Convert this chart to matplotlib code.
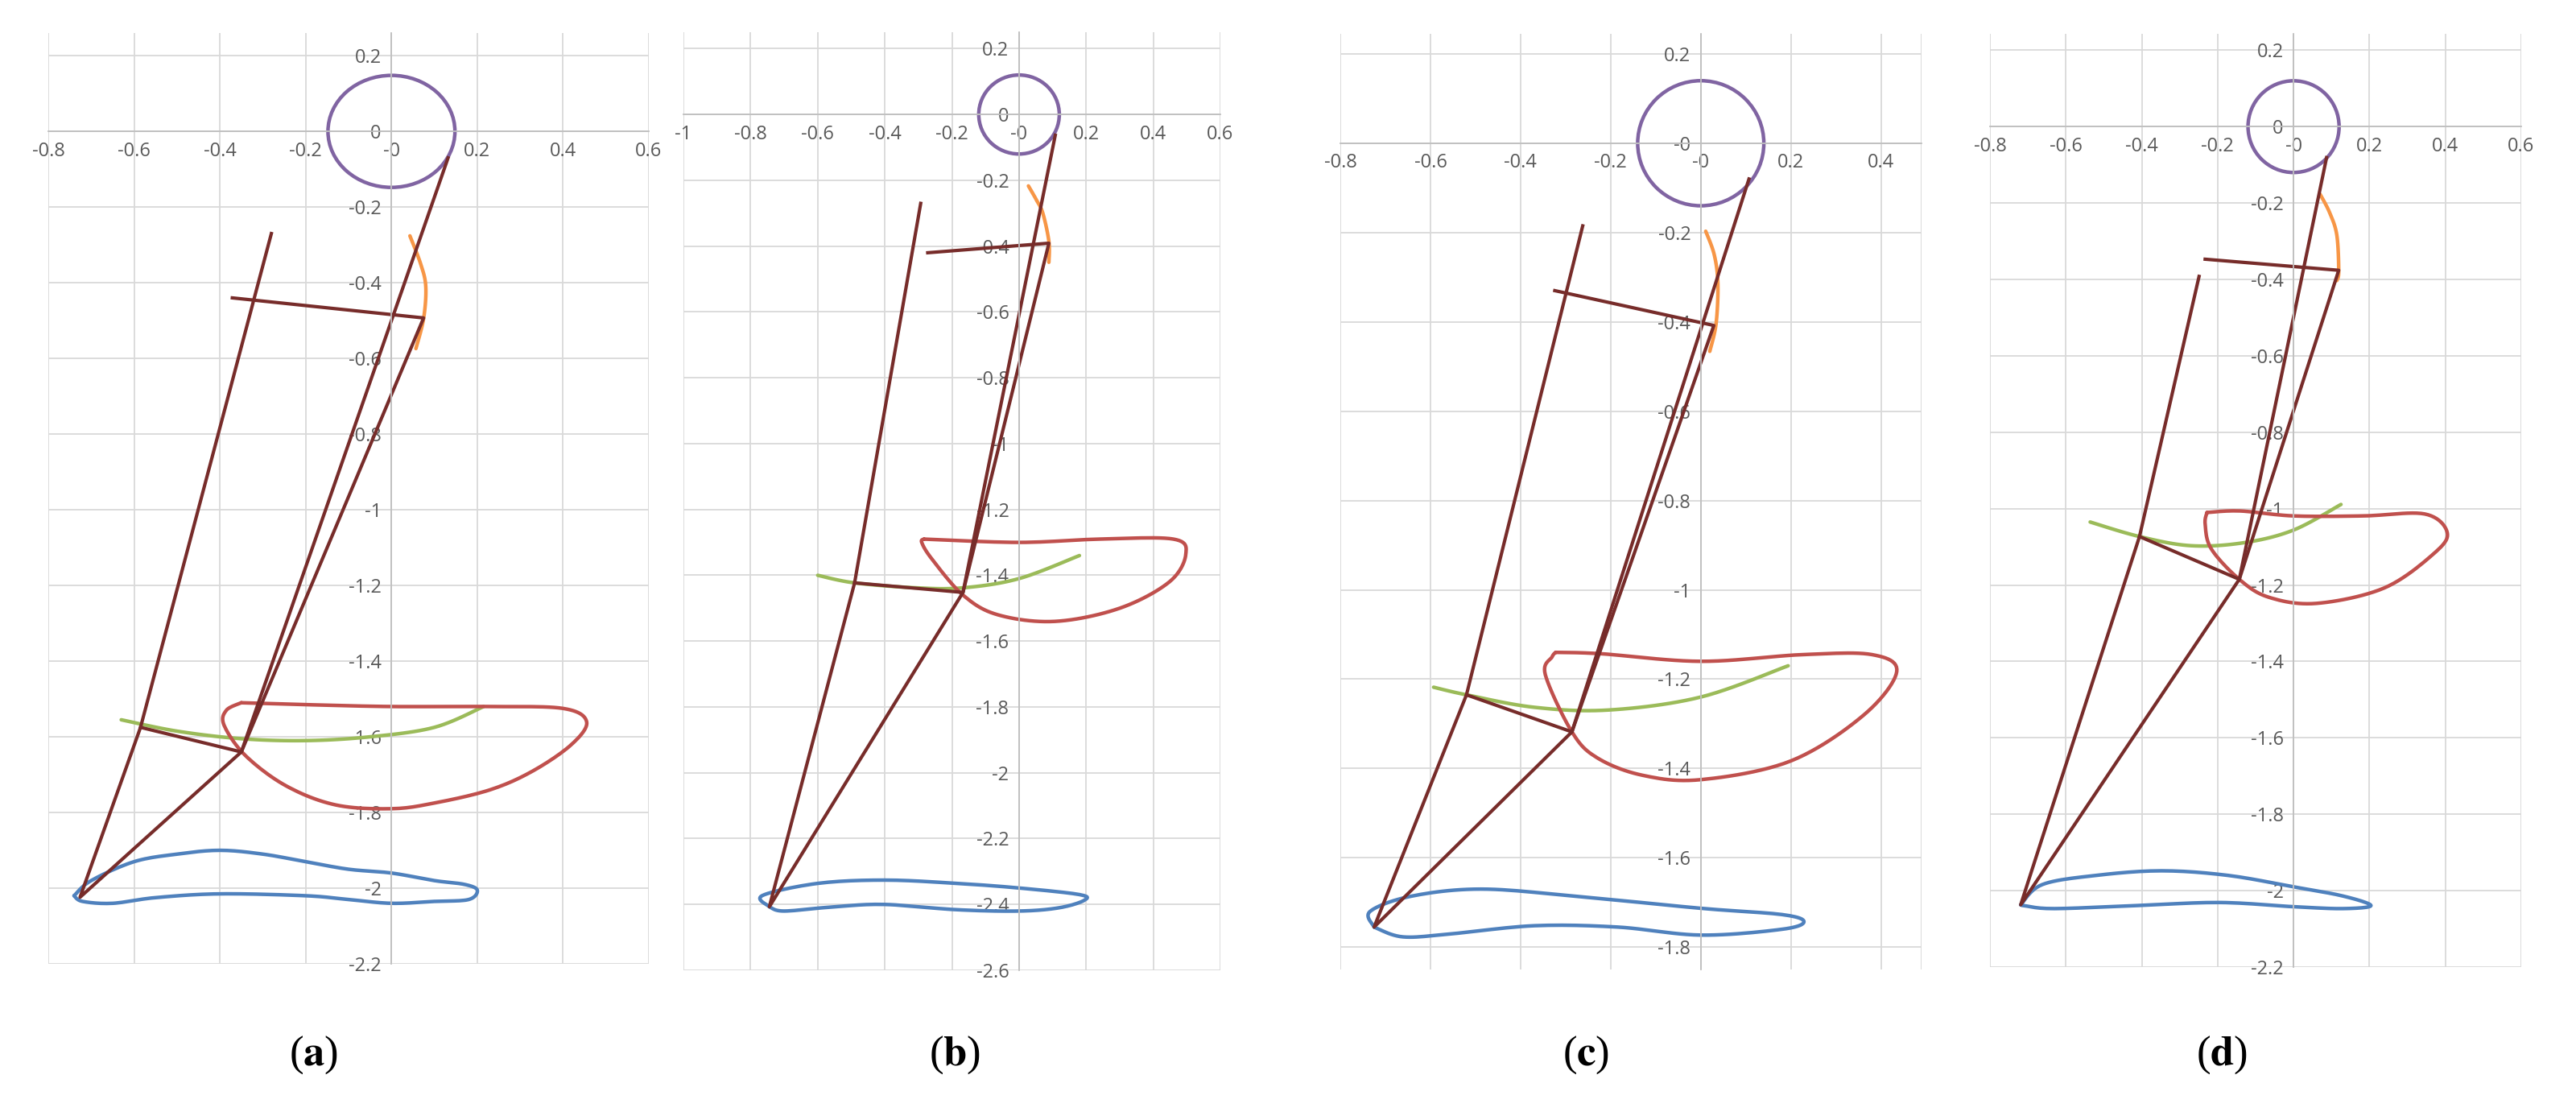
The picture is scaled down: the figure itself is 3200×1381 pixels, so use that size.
import matplotlib
matplotlib.use("Agg")
import matplotlib.pyplot as plt
from matplotlib.patches import Ellipse
import numpy as np

# ---- panel (a) ----
a_head_r = 0.148
a_skeleton = [
    [(-0.28, -0.27), (-0.585, -1.575), (-0.726, -2.024), (-0.35, -1.64), (0.132, -0.07)],
    [(-0.585, -1.575), (-0.35, -1.64), (0.075, -0.493), (-0.371, -0.44)],
]
a_orange = [(0.043, -0.276), (0.068, -0.35), (0.08, -0.41), (0.075, -0.494), (0.057, -0.574)]
a_green = [(-0.63, -1.555), (-0.5, -1.585), (-0.35, -1.605), (-0.2, -1.61), (-0.05, -1.60), (0.1, -1.575), (0.215, -1.52)]
a_red = [(-0.35, -1.51), (-0.2, -1.515), (0.0, -1.52), (0.23, -1.52), (0.40, -1.525), (0.455, -1.56),
         (0.42, -1.62), (0.33, -1.69), (0.23, -1.74), (0.1, -1.775), (0.0, -1.79), (-0.13, -1.78),
         (-0.245, -1.73), (-0.34, -1.65), (-0.39, -1.57), (-0.385, -1.53), (-0.35, -1.51)]
a_blue = [(-0.74, -2.02), (-0.70, -1.98), (-0.60, -1.93), (-0.50, -1.91), (-0.40, -1.90), (-0.30, -1.91),
          (-0.20, -1.93), (-0.10, -1.95), (0.0, -1.96), (0.10, -1.98), (0.17, -1.99), (0.20, -2.005),
          (0.18, -2.03), (0.10, -2.035), (0.0, -2.04), (-0.10, -2.03), (-0.20, -2.02), (-0.40, -2.015),
          (-0.55, -2.025), (-0.65, -2.04), (-0.72, -2.035), (-0.74, -2.02)]

# ---- panel (b) ----
b_head_r = 0.12
b_skeleton = [
    [(-0.293, -0.27), (-0.49, -1.423), (-0.744, -2.407), (-0.167, -1.452), (0.108, -0.063)],
    [(-0.49, -1.423), (-0.167, -1.452), (0.089, -0.391), (-0.272, -0.42)],
]
b_orange = [(0.028, -0.217), (0.052, -0.26), (0.071, -0.30), (0.089, -0.386), (0.089, -0.449)]
b_green = [(-0.60, -1.40), (-0.49, -1.423), (-0.307, -1.438), (-0.167, -1.438), (0.0, -1.41), (0.18, -1.34)]
b_red = [(-0.283, -1.29), (0.0, -1.30), (0.24, -1.29), (0.46, -1.29), (0.497, -1.336), (0.448, -1.42),
         (0.30, -1.50), (0.107, -1.54), (-0.063, -1.52), (-0.167, -1.46), (-0.26, -1.35), (-0.29, -1.30),
         (-0.283, -1.29)]
b_blue = [(-0.744, -2.407), (-0.765, -2.373), (-0.60, -2.336), (-0.4, -2.326), (-0.185, -2.336), (0.0, -2.35),
          (0.18, -2.37), (0.195, -2.387), (0.12, -2.41), (0.0, -2.42), (-0.185, -2.416), (-0.4, -2.40),
          (-0.55, -2.407), (-0.70, -2.42), (-0.744, -2.407)]

# ---- panel (c) ----
c_head_r = 0.14
c_skeleton = [
    [(-0.262, -0.185), (-0.52, -1.235), (-0.725, -1.755), (-0.286, -1.318), (0.107, -0.08)],
    [(-0.52, -1.235), (-0.286, -1.318), (0.029, -0.408), (-0.324, -0.33)],
]
c_orange = [(0.011, -0.197), (0.03, -0.25), (0.038, -0.314), (0.034, -0.404), (0.02, -0.466)]
c_green = [(-0.593, -1.218), (-0.52, -1.235), (-0.369, -1.263), (-0.204, -1.269), (0.0, -1.24), (0.194, -1.17)]
c_red = [(-0.322, -1.14), (-0.222, -1.143), (0.0, -1.16), (0.226, -1.145), (0.38, -1.145), (0.435, -1.183),
         (0.362, -1.28), (0.2, -1.383), (0.0, -1.425), (-0.13, -1.415), (-0.23, -1.376), (-0.286, -1.318),
         (-0.345, -1.19), (-0.33, -1.15), (-0.322, -1.14)]
c_blue = [(-0.725, -1.755), (-0.734, -1.72), (-0.643, -1.686), (-0.488, -1.67), (-0.277, -1.686), (0.0, -1.713),
          (0.18, -1.727), (0.229, -1.743), (0.18, -1.76), (0.0, -1.773), (-0.185, -1.755), (-0.369, -1.752),
          (-0.552, -1.77), (-0.661, -1.777), (-0.725, -1.755)]

# ---- panel (d) ----
d_head_r = 0.12
d_skeleton = [
    [(-0.249, -0.392), (-0.406, -1.073), (-0.719, -2.037), (-0.143, -1.185), (0.087, -0.081)],
    [(-0.406, -1.073), (-0.143, -1.185), (0.119, -0.376), (-0.233, -0.347)],
]
d_orange = [(0.07, -0.177), (0.095, -0.225), (0.114, -0.284), (0.119, -0.379), (0.114, -0.403)]
d_green = [(-0.536, -1.035), (-0.406, -1.073), (-0.27, -1.097), (-0.13, -1.089), (0.0, -1.056), (0.125, -0.989)]
d_red = [(-0.228, -1.01), (-0.141, -1.006), (0.0, -1.019), (0.184, -1.019), (0.346, -1.014), (0.405, -1.063),
         (0.368, -1.119), (0.238, -1.208), (0.06, -1.248), (-0.065, -1.232), (-0.143, -1.185), (-0.217, -1.105),
         (-0.233, -1.04), (-0.228, -1.01)]
d_blue = [(-0.719, -2.037), (-0.662, -1.984), (-0.52, -1.96), (-0.348, -1.948), (-0.173, -1.96), (0.0, -1.99),
          (0.13, -2.014), (0.204, -2.039), (0.13, -2.047), (0.0, -2.042), (-0.195, -2.031), (-0.413, -2.039),
          (-0.63, -2.047), (-0.706, -2.04), (-0.719, -2.037)]

captions = ["a", "b", "c", "d"]

PURPLE = "#8064A2"
ORANGE = "#F79646"
BROWN = "#772C2A"
GREEN = "#9BBB59"
RED = "#C0504D"
BLUE = "#4F81BD"

W, H = 3200, 1381
plt.rcParams["mathtext.fontset"] = "stix"
fig = plt.figure(figsize=(W / 100, H / 100), dpi=100)


def smooth(pts, n=12):
    # Catmull-Rom, like Excel's "smoothed line" option
    p = np.array(pts, dtype=float)
    ext = np.vstack([p[0], p, p[-1]])
    out = []
    t = np.linspace(0, 1, n, endpoint=False)[:, None]
    for i in range(1, len(ext) - 2):
        p0, p1, p2, p3 = ext[i - 1], ext[i], ext[i + 1], ext[i + 2]
        out.append(0.5 * (2 * p1 + (-p0 + p2) * t + (2 * p0 - 5 * p1 + 4 * p2 - p3) * t ** 2
                          + (-p0 + 3 * p1 - 3 * p2 + p3) * t ** 3))
    out.append(p[-1][None, :])
    return np.vstack(out)


def make_axes(left, right, top, bottom, xlim, ylim, yticks):
    ax = fig.add_axes([left / W, 1 - bottom / H, (right - left) / W, (bottom - top) / H])
    ax.set_xlim(*xlim)
    ax.set_ylim(*ylim)
    ax.set_xticks(np.round(np.arange(xlim[0], xlim[1] + 1e-6, 0.2), 1))
    ax.set_yticks(yticks)
    ax.xaxis.set_major_formatter(plt.FuncFormatter(lambda v, p: f"{v:g}"))
    ax.yaxis.set_major_formatter(plt.FuncFormatter(lambda v, p: f"{v:g}"))
    ax.grid(True, color="#d9d9d9", lw=1.3)
    ax.set_axisbelow(True)
    for s in ["top", "right"]:
        ax.spines[s].set_visible(False)
    for s in ["left", "bottom"]:
        ax.spines[s].set_position("zero")
        ax.spines[s].set_color("#bfbfbf")
        ax.spines[s].set_linewidth(1.3)
    ax.tick_params(length=0, labelsize=17, labelcolor="#595959", pad=9)
    for lab in ax.get_xticklabels() + ax.get_yticklabels():
        lab.set_fontfamily("Open Sans")
    return ax


def draw(ax, r, skeleton, orange, green, red, blue):
    ax.add_patch(Ellipse((0, 0), 2 * r, 2 * r, fill=False, ec=PURPLE, lw=3.2))
    for pts, col in [(orange, ORANGE), (green, GREEN), (red, RED), (blue, BLUE)]:
        s = smooth(pts)
        ax.plot(s[:, 0], s[:, 1], color=col, lw=3.2, solid_joinstyle="round", solid_capstyle="round")
    for poly in skeleton:
        xs, ys = zip(*poly)
        ax.plot(xs, ys, color=BROWN, lw=3.0, solid_joinstyle="round")


ax_a = make_axes(60, 806, 41, 1197, (-0.8, 0.6), (-2.2, 0.26), np.round(np.arange(-2.2, 0.21, 0.2), 1))
draw(ax_a, a_head_r, a_skeleton, a_orange, a_green, a_red, a_blue)

ax_b = make_axes(849, 1516, 40, 1205, (-1.0, 0.6), (-2.6, 0.25), np.round(np.arange(-2.6, 0.21, 0.2), 1))
draw(ax_b, b_head_r, b_skeleton, b_orange, b_green, b_red, b_blue)

ax_c = make_axes(1665, 2387, 42, 1204, (-0.8, 0.49), (-1.85, 0.245), np.round(np.arange(-1.8, 0.21, 0.2), 1))
ax_c.set_xticks(np.round(np.arange(-0.8, 0.41, 0.2), 1))
ax_c.axvline(0.49, color="#d9d9d9", lw=1.3, zorder=0)
draw(ax_c, c_head_r, c_skeleton, c_orange, c_green, c_red, c_blue)

ax_d = make_axes(2472, 3132, 42, 1201, (-0.8, 0.6), (-2.2, 0.243), np.round(np.arange(-2.2, 0.21, 0.2), 1))
draw(ax_d, d_head_r, d_skeleton, d_orange, d_green, d_red, d_blue)

for cx, cap in zip([390, 1186, 1970, 2760], captions):
    fig.text(cx / W, 1 - 1310 / H, r"($\mathbf{" + cap + r"}$)", ha="center", va="center", fontsize=38,
             family="Liberation Serif")

fig.savefig("out.png", dpi=100, facecolor="white")
